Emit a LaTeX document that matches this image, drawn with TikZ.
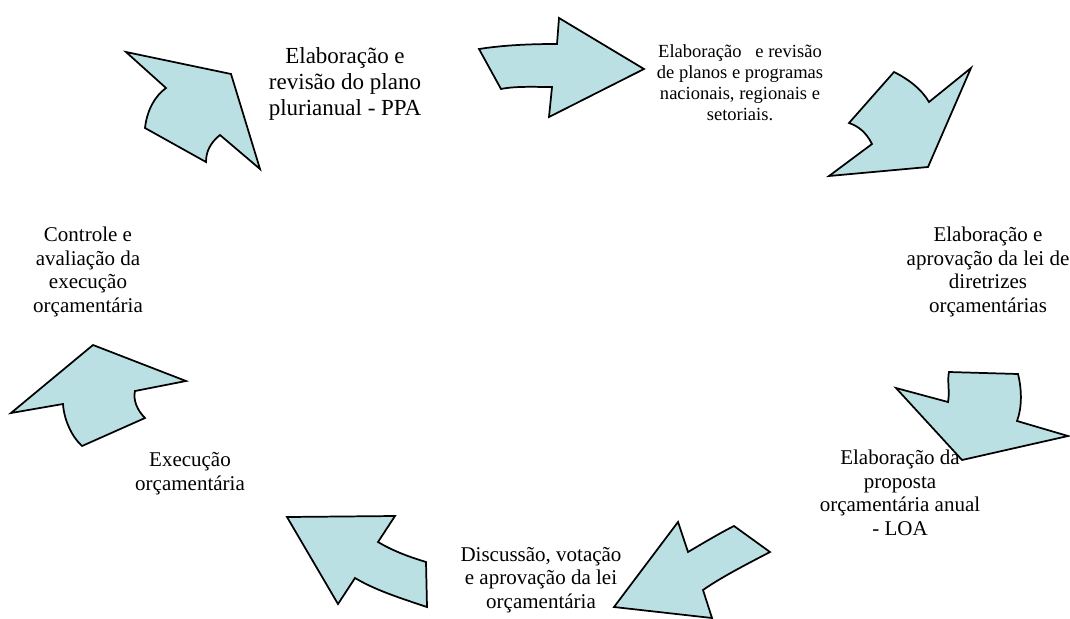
\documentclass[tikz,border=0pt]{standalone}
\usepackage{fontspec}
\setmainfont{Liberation Serif}
\definecolor{arrowfill}{RGB}{187,224,227}
\begin{document}
\begin{tikzpicture}[x=0.75pt,y=-0.75pt,
  bigarrow/.style={draw=black,fill=arrowfill,line width=1.3pt,line join=miter},
  lbl/.style={align=center,anchor=base,inner sep=0pt,font=\fontsize{15.75}{17.6}\selectfont},
  lblbig/.style={lbl,font=\fontsize{17.25}{19.5}\selectfont},
  lblsmall/.style={lbl,font=\fontsize{13.9}{15.75}\selectfont}]
\useasboundingbox (0,0) rectangle (1070,618);
% arrows
\draw[bigarrow] (126,52) -- (231,74) -- (260,169) -- (220,135)
  .. controls (210,143) and (206,152) .. (206,162) -- (145,128)
  .. controls (147,110) and (155,96) .. (166,88) -- cycle;
\draw[bigarrow] (479,49) .. controls (505,45) and (530,44) .. (557,44)
  -- (559,18) -- (644,69) -- (549,117) -- (552,87)
  .. controls (535,87) and (515,86) .. (501,89) -- cycle;
\draw[bigarrow] (894,72) .. controls (910,80) and (922,90) .. (929,102)
  -- (971,68) -- (928,167) -- (829,176) -- (872,144)
  .. controls (866,132) and (858,126) .. (849,123) -- cycle;
\draw[bigarrow] (896,388) -- (948,402) .. controls (950,392) and (947,380) .. (949,372)
  -- (1018,374) .. controls (1022,390) and (1022,408) .. (1017,421)
  -- (1068,436) -- (962,460) -- cycle;
\draw[bigarrow] (678,522) -- (688,552) .. controls (705,542) and (720,533) .. (734,526)
  -- (770,552) .. controls (745,565) and (720,578) .. (703,590)
  -- (712,618) -- (614,607) -- cycle;
\draw[bigarrow] (287,517) -- (395,516) -- (378,542)
  .. controls (395,552) and (410,557) .. (426,562) -- (427,607)
  .. controls (400,598) and (375,590) .. (355,578) -- (338,604) -- cycle;
\draw[bigarrow] (93,345) -- (186,381) -- (135,391)
  .. controls (133,400) and (137,410) .. (145,418) -- (82,446)
  .. controls (72,437) and (64,420) .. (63,404) -- (11,413) -- cycle;
% labels
\node[lblbig] (ppa) at (345,115) {Elaboração e\\revisão do plano\\plurianual - PPA};
\node[lblsmall] (planos) at (740,120) {Elaboração \ \ e revisão\\de planos e programas\\nacionais, regionais e\\setoriais.};
\node[lbl] (ldo) at (988,312) {Elaboração e\\aprovação da lei de\\diretrizes\\orçamentárias};
\node[lbl] (loa) at (900,535) {Elaboração da\\proposta\\orçamentária anual\\- LOA};
\node[lbl] (disc) at (541,608) {Discussão, votação\\e aprovação da lei\\orçamentária};
\node[lbl] (exec) at (190,490) {Execução\\orçamentária};
\node[lbl] (ctrl) at (88,312) {Controle e\\avaliação da\\execução\\orçamentária};
\end{tikzpicture}
\end{document}
